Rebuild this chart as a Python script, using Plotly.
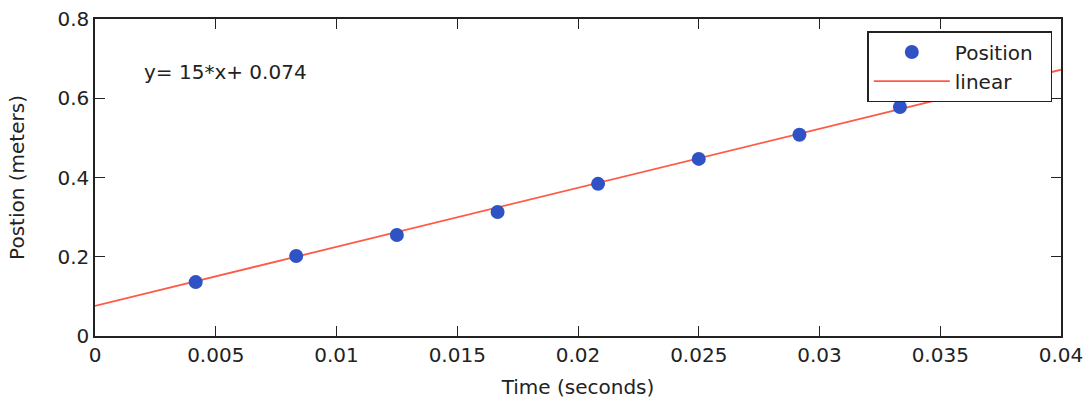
import plotly.graph_objects as go

time_s = [0.00417, 0.00833, 0.0125, 0.01667, 0.02083, 0.025, 0.02917, 0.03333]
position_m = [0.136, 0.202, 0.255, 0.313, 0.384, 0.447, 0.508, 0.578]
fit_x = [0.0, 0.04]
fit_y = [0.076, 0.672]
x_ticks = [0, 0.005, 0.01, 0.015, 0.02, 0.025, 0.03, 0.035, 0.04]
x_labels = ["0", "0.005", "0.01", "0.015", "0.02", "0.025", "0.03", "0.035", "0.04"]
y_ticks = [0, 0.2, 0.4, 0.6, 0.8]
y_labels = ["0", "0.2", "0.4", "0.6", "0.8"]

font = "DejaVu Sans, sans-serif"
fs = 20

fig = go.Figure()
fig.add_trace(go.Scatter(x=fit_x, y=fit_y, mode="lines", name="linear",
                         line=dict(color="#ff5a48", width=1.8), showlegend=False))
fig.add_trace(go.Scatter(x=time_s, y=position_m, mode="markers", name="Position\u00a0\u00a0",
                         marker=dict(color="#2f52c4", size=14, symbol="circle")))
fig.add_trace(go.Scatter(x=[None], y=[None], mode="lines", name="linear",
                         line=dict(color="#ff5a48", width=1.8)))

axis_common = dict(showgrid=False, zeroline=False, showline=True, linecolor="#222",
                   linewidth=1.5, mirror="allticks", ticks="inside", ticklen=10,
                   tickcolor="#222", tickfont=dict(family=font, size=fs, color="#222"),
                   ticklabeloverflow="allow", automargin=False)

fig.update_xaxes(range=[0, 0.04], tickvals=x_ticks, ticktext=x_labels,
                 title=dict(text="Time (seconds)", font=dict(family=font, size=fs, color="#222"),
                            standoff=14), **axis_common)
fig.update_yaxes(range=[0, 0.8], tickvals=y_ticks, ticktext=y_labels,
                 title=dict(text="Postion (meters)", font=dict(family=font, size=fs, color="#222"),
                            standoff=27), **axis_common)

fig.add_annotation(x=0.00195, y=0.667, xref="x", yref="y", text="y= 15*x+ 0.074",
                   showarrow=False, xanchor="left", yanchor="middle",
                   font=dict(family=font, size=fs, color="#222"))

fig.update_layout(
    width=1083, height=401,
    margin=dict(l=95, r=22, t=19, b=65),
    plot_bgcolor="white", paper_bgcolor="white",
    legend=dict(x=0.991, y=0.962, xanchor="right", yanchor="top",
                bgcolor="white", bordercolor="#222", borderwidth=1.5,
                font=dict(family=font, size=fs, color="#222"),
                itemwidth=76, tracegroupgap=0),
)

fig.write_html("out.html", config={"displayModeBar": False},
               post_script="document.body.style.margin='0';")
